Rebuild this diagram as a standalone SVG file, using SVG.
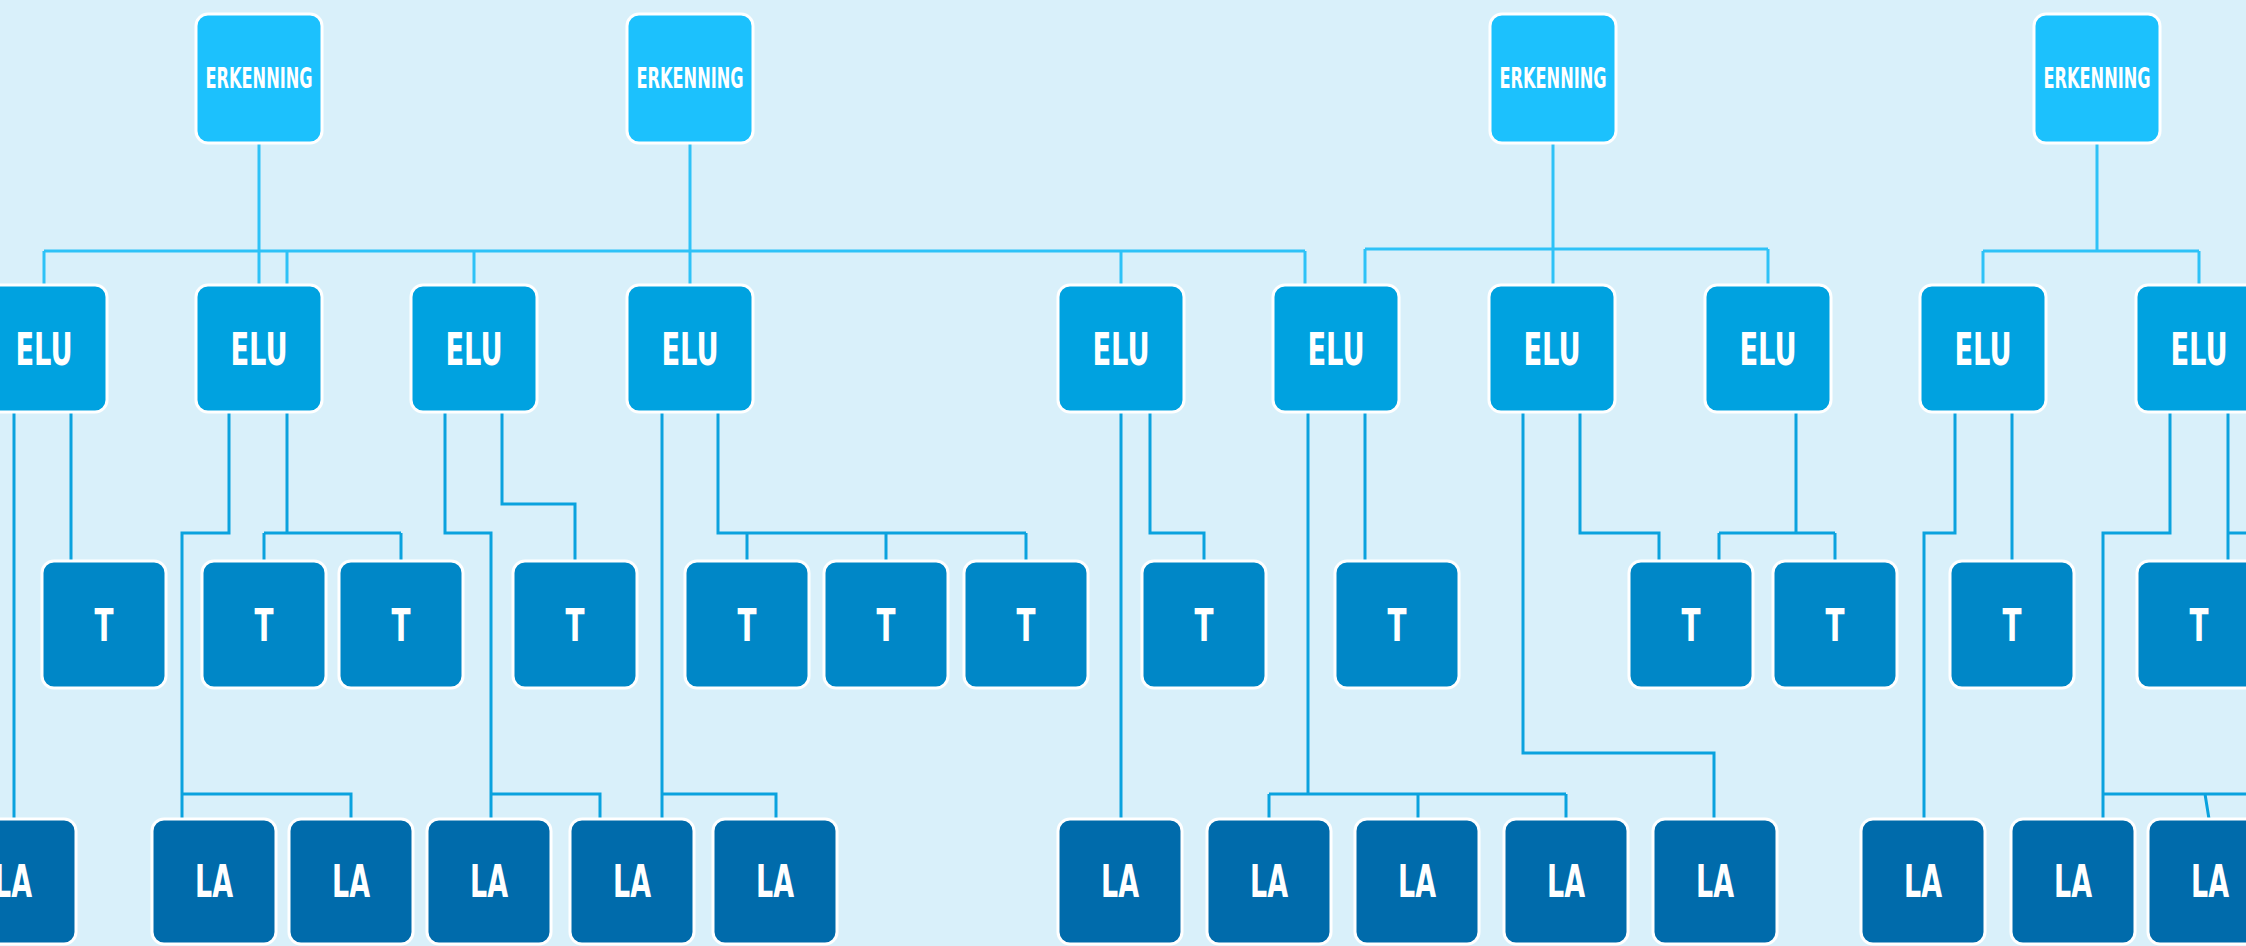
<svg xmlns="http://www.w3.org/2000/svg" width="2246" height="946" viewBox="0 0 2246 946">
<defs>
<style>
.box{stroke:#ffffff;stroke-width:3}
.erk{fill:#1CC1FD}
.elu{fill:#00A2E0}
.t{fill:#0087C7}
.la{fill:#006BAB}
.lbl{fill:#ffffff;font-family:"Liberation Sans Narrow","DejaVu Sans Condensed","Liberation Sans",sans-serif;font-weight:bold;text-anchor:middle}
.big{font-size:45px}
.small{font-size:28px}
.top{fill:none;stroke:#2EC2F7;stroke-width:3}
.low{fill:none;stroke:#0AA2DE;stroke-width:3}
</style>
</defs>
<rect x="0" y="0" width="2246" height="946" fill="#D9F0FA"/>
<g id="connectors">
<path class="top" d="M259 143V285M690 143V285M44 251H1305M44 251V285M287 251V285M474 251V285M1121 251V285M1305 251V285M1553 143V285M1365 249H1768M1365 249V285M1768 249V285M2097 143V251M1983 251H2199M1983 251V285M2199 251V285"/>
<path class="low" d="M14 412V819M71 412V561
M229 412V533H182V819M182 794H351V819M287 412V533M264 533H401M264 533V561M401 533V561
M445 412V533H491V819M491 794H600V819M502 412V504H575V561
M662 412V819M662 794H776V819M718 412V533H1026M747 533V561M886 533V561M1026 533V561
M1121 412V819M1150 412V533H1204V561
M1308 412V794M1269 794H1566M1269 794V819M1418 794V819M1566 794V819M1365 412V561
M1523 412V753H1714V819M1580 412V533H1659V561
M1796 412V533M1719 533H1835M1719 533V561M1835 533V561
M1955 412V533H1924V819M2012 412V561
M2170 412V533H2103V819M2103 794H2246M2205 794L2209 819M2228 412V561M2228 533H2246"/>
</g>
<g id="erk1"><rect class="box erk" x="196" y="14" width="126" height="129" rx="12"/><text class="lbl small" x="259" y="88" textLength="107" lengthAdjust="spacingAndGlyphs">ERKENNING</text></g>
<g id="erk2"><rect class="box erk" x="627" y="14" width="126" height="129" rx="12"/><text class="lbl small" x="690" y="88" textLength="107" lengthAdjust="spacingAndGlyphs">ERKENNING</text></g>
<g id="erk3"><rect class="box erk" x="1490" y="14" width="126" height="129" rx="12"/><text class="lbl small" x="1553" y="88" textLength="107" lengthAdjust="spacingAndGlyphs">ERKENNING</text></g>
<g id="erk4"><rect class="box erk" x="2034" y="14" width="126" height="129" rx="12"/><text class="lbl small" x="2097" y="88" textLength="107" lengthAdjust="spacingAndGlyphs">ERKENNING</text></g>

<g id="elu1"><rect class="box elu" x="-19" y="285" width="126" height="127" rx="12"/><text class="lbl big" x="44" y="365" textLength="57" lengthAdjust="spacingAndGlyphs">ELU</text></g>
<g id="elu2"><rect class="box elu" x="196" y="285" width="126" height="127" rx="12"/><text class="lbl big" x="259" y="365" textLength="57" lengthAdjust="spacingAndGlyphs">ELU</text></g>
<g id="elu3"><rect class="box elu" x="411" y="285" width="126" height="127" rx="12"/><text class="lbl big" x="474" y="365" textLength="57" lengthAdjust="spacingAndGlyphs">ELU</text></g>
<g id="elu4"><rect class="box elu" x="627" y="285" width="126" height="127" rx="12"/><text class="lbl big" x="690" y="365" textLength="57" lengthAdjust="spacingAndGlyphs">ELU</text></g>
<g id="elu5"><rect class="box elu" x="1058" y="285" width="126" height="127" rx="12"/><text class="lbl big" x="1121" y="365" textLength="57" lengthAdjust="spacingAndGlyphs">ELU</text></g>
<g id="elu6"><rect class="box elu" x="1273" y="285" width="126" height="127" rx="12"/><text class="lbl big" x="1336" y="365" textLength="57" lengthAdjust="spacingAndGlyphs">ELU</text></g>
<g id="elu7"><rect class="box elu" x="1489" y="285" width="126" height="127" rx="12"/><text class="lbl big" x="1552" y="365" textLength="57" lengthAdjust="spacingAndGlyphs">ELU</text></g>
<g id="elu8"><rect class="box elu" x="1705" y="285" width="126" height="127" rx="12"/><text class="lbl big" x="1768" y="365" textLength="57" lengthAdjust="spacingAndGlyphs">ELU</text></g>
<g id="elu9"><rect class="box elu" x="1920" y="285" width="126" height="127" rx="12"/><text class="lbl big" x="1983" y="365" textLength="57" lengthAdjust="spacingAndGlyphs">ELU</text></g>
<g id="elu10"><rect class="box elu" x="2136" y="285" width="126" height="127" rx="12"/><text class="lbl big" x="2199" y="365" textLength="57" lengthAdjust="spacingAndGlyphs">ELU</text></g>

<g id="t1"><rect class="box t" x="42" y="561" width="124" height="127" rx="12"/><text class="lbl big" x="104" y="641" textLength="19" lengthAdjust="spacingAndGlyphs">T</text></g>
<g id="t2"><rect class="box t" x="202" y="561" width="124" height="127" rx="12"/><text class="lbl big" x="264" y="641" textLength="19" lengthAdjust="spacingAndGlyphs">T</text></g>
<g id="t3"><rect class="box t" x="339" y="561" width="124" height="127" rx="12"/><text class="lbl big" x="401" y="641" textLength="19" lengthAdjust="spacingAndGlyphs">T</text></g>
<g id="t4"><rect class="box t" x="513" y="561" width="124" height="127" rx="12"/><text class="lbl big" x="575" y="641" textLength="19" lengthAdjust="spacingAndGlyphs">T</text></g>
<g id="t5"><rect class="box t" x="685" y="561" width="124" height="127" rx="12"/><text class="lbl big" x="747" y="641" textLength="19" lengthAdjust="spacingAndGlyphs">T</text></g>
<g id="t6"><rect class="box t" x="824" y="561" width="124" height="127" rx="12"/><text class="lbl big" x="886" y="641" textLength="19" lengthAdjust="spacingAndGlyphs">T</text></g>
<g id="t7"><rect class="box t" x="964" y="561" width="124" height="127" rx="12"/><text class="lbl big" x="1026" y="641" textLength="19" lengthAdjust="spacingAndGlyphs">T</text></g>
<g id="t8"><rect class="box t" x="1142" y="561" width="124" height="127" rx="12"/><text class="lbl big" x="1204" y="641" textLength="19" lengthAdjust="spacingAndGlyphs">T</text></g>
<g id="t9"><rect class="box t" x="1335" y="561" width="124" height="127" rx="12"/><text class="lbl big" x="1397" y="641" textLength="19" lengthAdjust="spacingAndGlyphs">T</text></g>
<g id="t10"><rect class="box t" x="1629" y="561" width="124" height="127" rx="12"/><text class="lbl big" x="1691" y="641" textLength="19" lengthAdjust="spacingAndGlyphs">T</text></g>
<g id="t11"><rect class="box t" x="1773" y="561" width="124" height="127" rx="12"/><text class="lbl big" x="1835" y="641" textLength="19" lengthAdjust="spacingAndGlyphs">T</text></g>
<g id="t12"><rect class="box t" x="1950" y="561" width="124" height="127" rx="12"/><text class="lbl big" x="2012" y="641" textLength="19" lengthAdjust="spacingAndGlyphs">T</text></g>
<g id="t13"><rect class="box t" x="2137" y="561" width="124" height="127" rx="12"/><text class="lbl big" x="2199" y="641" textLength="19" lengthAdjust="spacingAndGlyphs">T</text></g>

<g id="la1"><rect class="box la" x="-50" y="819" width="126" height="125" rx="12"/><text class="lbl big" x="13" y="897" textLength="38" lengthAdjust="spacingAndGlyphs">LA</text></g>
<g id="la2"><rect class="box la" x="152" y="819" width="124" height="125" rx="12"/><text class="lbl big" x="214" y="897" textLength="38" lengthAdjust="spacingAndGlyphs">LA</text></g>
<g id="la3"><rect class="box la" x="289" y="819" width="124" height="125" rx="12"/><text class="lbl big" x="351" y="897" textLength="38" lengthAdjust="spacingAndGlyphs">LA</text></g>
<g id="la4"><rect class="box la" x="427" y="819" width="124" height="125" rx="12"/><text class="lbl big" x="489" y="897" textLength="38" lengthAdjust="spacingAndGlyphs">LA</text></g>
<g id="la5"><rect class="box la" x="570" y="819" width="124" height="125" rx="12"/><text class="lbl big" x="632" y="897" textLength="38" lengthAdjust="spacingAndGlyphs">LA</text></g>
<g id="la6"><rect class="box la" x="713" y="819" width="124" height="125" rx="12"/><text class="lbl big" x="775" y="897" textLength="38" lengthAdjust="spacingAndGlyphs">LA</text></g>
<g id="la7"><rect class="box la" x="1058" y="819" width="124" height="125" rx="12"/><text class="lbl big" x="1120" y="897" textLength="38" lengthAdjust="spacingAndGlyphs">LA</text></g>
<g id="la8"><rect class="box la" x="1207" y="819" width="124" height="125" rx="12"/><text class="lbl big" x="1269" y="897" textLength="38" lengthAdjust="spacingAndGlyphs">LA</text></g>
<g id="la9"><rect class="box la" x="1355" y="819" width="124" height="125" rx="12"/><text class="lbl big" x="1417" y="897" textLength="38" lengthAdjust="spacingAndGlyphs">LA</text></g>
<g id="la10"><rect class="box la" x="1504" y="819" width="124" height="125" rx="12"/><text class="lbl big" x="1566" y="897" textLength="38" lengthAdjust="spacingAndGlyphs">LA</text></g>
<g id="la11"><rect class="box la" x="1653" y="819" width="124" height="125" rx="12"/><text class="lbl big" x="1715" y="897" textLength="38" lengthAdjust="spacingAndGlyphs">LA</text></g>
<g id="la12"><rect class="box la" x="1861" y="819" width="124" height="125" rx="12"/><text class="lbl big" x="1923" y="897" textLength="38" lengthAdjust="spacingAndGlyphs">LA</text></g>
<g id="la13"><rect class="box la" x="2011" y="819" width="124" height="125" rx="12"/><text class="lbl big" x="2073" y="897" textLength="38" lengthAdjust="spacingAndGlyphs">LA</text></g>
<g id="la14"><rect class="box la" x="2148" y="819" width="124" height="125" rx="12"/><text class="lbl big" x="2210" y="897" textLength="38" lengthAdjust="spacingAndGlyphs">LA</text></g>
</svg>
